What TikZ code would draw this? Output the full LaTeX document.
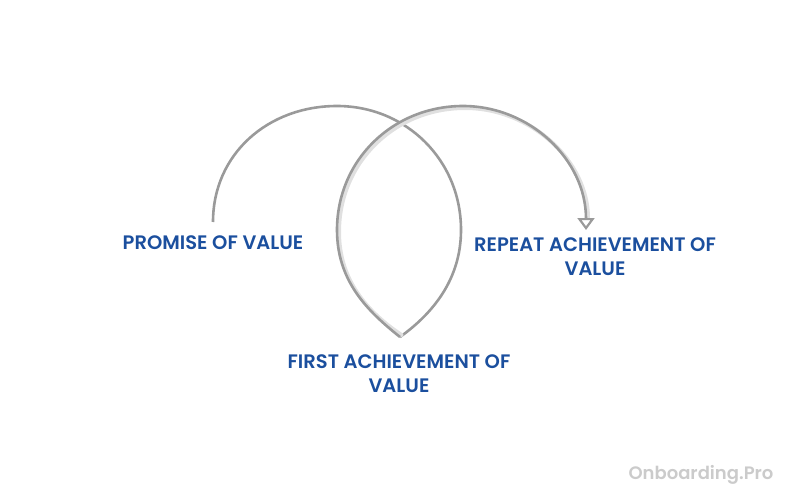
\documentclass[tikz,border=0pt]{standalone}
\usepackage{fontspec}
\setmainfont{Poppins}[BoldFont={Poppins SemiBold}]
\usetikzlibrary{arrows.meta}
\definecolor{loopgray}{HTML}{9A9A9A}
\definecolor{labelblue}{HTML}{1B4F9E}
\definecolor{markgray}{HTML}{CBCBCB}
\begin{document}
\begin{tikzpicture}[x=1pt,y=-1pt,
  loop/.style={draw=loopgray,line width=2.6pt},
  stage/.style={text=labelblue,font=\fontsize{19.5}{24}\selectfont\bfseries,align=center,inner sep=0pt}]
\useasboundingbox (0,0) rectangle (799,500);

\coordinate (start) at (213,222);
\coordinate (bottom) at (400,337);
\coordinate (tip) at (586,230);

\node[stage] (promise) at (213,243) {PROMISE OF VALUE};
\node[stage] (first) at (399,374) {FIRST ACHIEVEMENT OF\\VALUE};
\node[stage] (repeat) at (595,257) {REPEAT ACHIEVEMENT OF\\VALUE};
\node[text=markgray,font=\fontsize{18}{22}\selectfont\bfseries] (brand) at (701,475) {Onboarding.Pro};

% first loop, up and over into the point
\draw[loop] (start) .. controls (213,154) and (268,106) .. (337,106)
  .. controls (406,106) and (461,160) .. (461,230)
  .. controls (461,280) and (432,314) .. (bottom);

% soft shadow under the second loop
\draw[draw=black!12,line width=4pt,line cap=round] ([xshift=1.5,yshift=2]bottom) .. controls (367,312) and (339,280) .. (339,232)
  .. controls (339,162) and (395,108) .. (465,108)
  .. controls (532,108) and (588,162) .. (588,218);

% second loop, from the point out to the arrow
\draw[loop,-{Triangle[open,length=12pt,width=17pt,line width=2.2pt]}] (bottom) .. controls (366,310) and (337,280) .. (337,230)
  .. controls (337,160) and (393,106) .. (463,106)
  .. controls (530,106) and (586,160) .. (tip);
\end{tikzpicture}
\end{document}
